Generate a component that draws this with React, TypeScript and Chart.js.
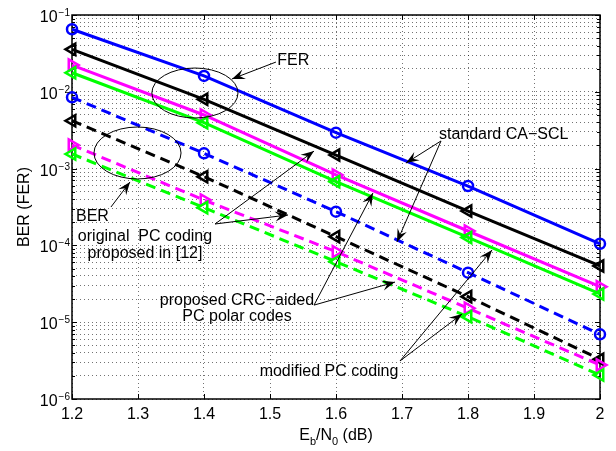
import React, { useEffect, useRef } from 'react';
import { Chart, registerables } from 'chart.js';

Chart.register(...registerables);

// ---------------- data ----------------
const ebn0 = [1.2, 1.4, 1.6, 1.8, 2.0];

// FER (solid)
const ferStandard = [0.0652, 0.0161, 0.00294, 5.93e-4, 1.05e-4]; // blue
const ferOriginal = [0.0357, 0.00798, 0.0015, 2.8e-4, 5.4e-5]; // black
const ferModified = [0.0223, 0.00499, 8.26e-4, 1.54e-4, 2.9e-5]; // magenta
const ferProposed = [0.0177, 0.00396, 6.76e-4, 1.27e-4, 2.33e-5]; // green

// BER (dashed)
const berStandard = [0.00848, 1.58e-3, 2.75e-4, 4.42e-5, 6.95e-6]; // blue
const berOriginal = [4.2e-3, 7.85e-4, 1.3e-4, 2.15e-5, 3.29e-6]; // black
const berModified = [2.03e-3, 3.9e-4, 8.28e-5, 1.52e-5, 2.77e-6]; // magenta
const berProposed = [1.55e-3, 3.1e-4, 6.14e-5, 1.18e-5, 2.05e-6]; // green

// ticks
const xTickValues = [1.2, 1.3, 1.4, 1.5, 1.6, 1.7, 1.8, 1.9, 2.0];
const xTickLabels = ['1.2', '1.3', '1.4', '1.5', '1.6', '1.7', '1.8', '1.9', '2'];
const yTickValues = [1e-6, 1e-5, 1e-4, 1e-3, 1e-2, 1e-1];
const yTickExponents = ['\u22126', '\u22125', '\u22124', '\u22123', '\u22122', '\u22121'];
const yMinorMultipliers = [2, 3, 4, 5, 6, 7, 8, 9];

const yTitle = 'BER (FER)';
const xTitleParts = [
  { t: 'E', sub: false },
  { t: 'b', sub: true },
  { t: '/N', sub: false },
  { t: '0', sub: true },
  { t: ' (dB)', sub: false },
];

// ---------------- annotations (data coordinates) ----------------
const annoTexts = [
  { text: 'FER', x: 1.511, y: 0.0252, align: 'left' },
  { text: 'BER', x: 1.206, y: 2.34e-4, align: 'left' },
  { text: 'original  PC coding', x: 1.3106, y: 1.32e-4, align: 'center' },
  { text: 'proposed in [12]', x: 1.3106, y: 7.72e-5, align: 'center' },
  { text: 'standard CA\u2212SCL', x: 1.756, y: 2.74e-3, align: 'left' },
  { text: 'proposed CRC\u2212aided', x: 1.45, y: 1.89e-5, align: 'center' },
  { text: 'PC polar codes', x: 1.45, y: 1.17e-5, align: 'center' },
  { text: 'modified PC coding', x: 1.5894, y: 2.25e-6, align: 'center' },
];

const annoArrows = [
  { x1: 1.509, y1: 0.0244, x2: 1.4424, y2: 0.0147 },
  { x1: 1.259, y1: 3.16e-4, x2: 1.2879, y2: 6.7e-4 },
  { x1: 1.4167, y1: 1.9e-4, x2: 1.5667, y2: 1.69e-3 },
  { x1: 1.4167, y1: 1.9e-4, x2: 1.5273, y2: 2.49e-4 },
  { x1: 1.7591, y1: 2.29e-3, x2: 1.706, y2: 1.18e-3 },
  { x1: 1.7591, y1: 2.29e-3, x2: 1.6924, y2: 1.11e-4 },
  { x1: 1.5667, y1: 1.67e-5, x2: 1.656, y2: 4.81e-4 },
  { x1: 1.5667, y1: 1.67e-5, x2: 1.6894, y2: 3.33e-5 },
  { x1: 1.697, y1: 3.13e-6, x2: 1.8364, y2: 8.71e-5 },
  { x1: 1.697, y1: 3.13e-6, x2: 1.791, y2: 1.28e-5 },
];

const annoEllipses = [
  { x1: 1.321, x2: 1.4515, y1: 0.0204, y2: 0.00456 },
  { x1: 1.2333, x2: 1.3652, y1: 0.00348, y2: 0.000733 },
];

const FONT = "'Liberation Sans', Arimo, Arial, 'DejaVu Sans', sans-serif";

function drawArrow(ctx: CanvasRenderingContext2D, x1: number, y1: number, x2: number, y2: number) {
  ctx.beginPath();
  ctx.moveTo(x1, y1);
  ctx.lineTo(x2, y2);
  ctx.stroke();
  const ang = Math.atan2(y2 - y1, x2 - x1);
  const L = 13;
  const W = 5;
  const c = Math.cos(ang);
  const s = Math.sin(ang);
  const bx = x2 - L * c;
  const by = y2 - L * s;
  const nx = x2 - 0.62 * L * c;
  const ny = y2 - 0.62 * L * s;
  const px = -s;
  const py = c;
  ctx.beginPath();
  ctx.moveTo(x2, y2);
  ctx.lineTo(bx + px * W, by + py * W);
  ctx.lineTo(nx, ny);
  ctx.lineTo(bx - px * W, by - py * W);
  ctx.closePath();
  ctx.fill();
}

const matlabPlugin = {
  id: 'matlabAxes',
  beforeDatasetsDraw(chart: any) {
    const { ctx, chartArea: a, scales } = chart;
    const xs = scales.x;
    const ys = scales.y;
    ctx.save();
    ctx.setLineDash([]);
    ctx.strokeStyle = '#000';
    ctx.lineWidth = 1;
    for (const v of xTickValues) {
      const px = Math.round(xs.getPixelForValue(v)) + 0.5;
      ctx.beginPath();
      ctx.moveTo(px, a.bottom);
      ctx.lineTo(px, a.bottom - 5);
      ctx.moveTo(px, a.top);
      ctx.lineTo(px, a.top + 5);
      ctx.stroke();
    }
    for (const v of yTickValues) {
      const py = Math.round(ys.getPixelForValue(v)) + 0.5;
      ctx.beginPath();
      ctx.moveTo(a.left, py);
      ctx.lineTo(a.left + 5, py);
      ctx.moveTo(a.right, py);
      ctx.lineTo(a.right - 5, py);
      ctx.stroke();
      if (v < 0.1) {
        for (const m of yMinorMultipliers) {
          const pm = Math.round(ys.getPixelForValue(v * m)) + 0.5;
          ctx.beginPath();
          ctx.moveTo(a.left, pm);
          ctx.lineTo(a.left + 3, pm);
          ctx.moveTo(a.right, pm);
          ctx.lineTo(a.right - 3, pm);
          ctx.stroke();
        }
      }
    }
    ctx.lineWidth = 1.5;
    ctx.strokeRect(a.left, a.top, a.right - a.left, a.bottom - a.top);
    ctx.restore();
  },
  afterDatasetsDraw(chart: any) {
    const { ctx, chartArea: a, scales } = chart;
    const xs = scales.x;
    const ys = scales.y;
    const X = (v: number) => xs.getPixelForValue(v);
    const Y = (v: number) => ys.getPixelForValue(v);
    ctx.save();
    ctx.setLineDash([]);
    ctx.fillStyle = '#000';
    ctx.strokeStyle = '#000';
    ctx.lineWidth = 1;

    for (const e of annoEllipses) {
      const x1 = X(e.x1), x2 = X(e.x2), y1 = Y(e.y1), y2 = Y(e.y2);
      ctx.beginPath();
      ctx.ellipse((x1 + x2) / 2, (y1 + y2) / 2, Math.abs(x2 - x1) / 2, Math.abs(y2 - y1) / 2, 0, 0, Math.PI * 2);
      ctx.stroke();
    }
    for (const ar of annoArrows) {
      drawArrow(ctx, X(ar.x1), Y(ar.y1), X(ar.x2), Y(ar.y2));
    }
    ctx.font = `16px ${FONT}`;
    ctx.textBaseline = 'middle';
    for (const t of annoTexts) {
      ctx.textAlign = t.align as CanvasTextAlign;
      ctx.fillText(t.text, X(t.x), Y(t.y));
    }

    ctx.textBaseline = 'alphabetic';
    ctx.textAlign = 'right';
    yTickValues.forEach((v, i) => {
      const py = Y(v);
      ctx.font = `10px ${FONT}`;
      const sup = yTickExponents[i];
      ctx.fillText(sup, a.left - 2, py + 1);
      const sw = ctx.measureText(sup).width;
      ctx.font = `16px ${FONT}`;
      ctx.fillText('10', a.left - 2 - sw - 1, py + 7);
    });

    ctx.textAlign = 'center';
    ctx.font = `16px ${FONT}`;
    xTickValues.forEach((v, i) => {
      ctx.fillText(xTickLabels[i], X(v), a.bottom + 20);
    });

    const mainFont = `16px ${FONT}`;
    const subFont = `11px ${FONT}`;
    let total = 0;
    for (const p of xTitleParts) {
      ctx.font = p.sub ? subFont : mainFont;
      total += ctx.measureText(p.t).width;
    }
    let cx = (a.left + a.right) / 2 - total / 2;
    ctx.textAlign = 'left';
    for (const p of xTitleParts) {
      ctx.font = p.sub ? subFont : mainFont;
      ctx.fillText(p.t, cx, p.sub ? a.bottom + 46 : a.bottom + 41);
      cx += ctx.measureText(p.t).width;
    }

    ctx.save();
    ctx.translate(25, (a.top + a.bottom) / 2);
    ctx.rotate(-Math.PI / 2);
    ctx.font = mainFont;
    ctx.textAlign = 'center';
    ctx.textBaseline = 'middle';
    ctx.fillText(yTitle, 0, 0);
    ctx.restore();

    ctx.restore();
  },
};

function series(values: number[], color: string, dashed: boolean, style: string, rotation: number, order: number) {
  return {
    data: ebn0.map((x, i) => ({ x, y: values[i] })),
    borderColor: color,
    backgroundColor: 'rgba(0,0,0,0)',
    borderWidth: 3,
    borderDash: dashed ? [10, 6] : [],
    pointStyle: style,
    pointRotation: rotation,
    pointRadius: style === 'circle' ? 5 : 6.5,
    pointBorderWidth: 2.5,
    pointBorderColor: color,
    pointBackgroundColor: 'rgba(0,0,0,0)',
    fill: false,
    tension: 0,
    clip: false,
    order,
  };
}

export default function App() {
  const ref = useRef<HTMLCanvasElement | null>(null);
  useEffect(() => {
    document.body.style.margin = '0';
    if (!ref.current) return;
    const gridColor = 'rgba(0,0,0,0.55)';
    const yAll: number[] = [];
    yTickValues.forEach((v) => {
      yAll.push(v);
      if (v < 0.1) yMinorMultipliers.forEach((m) => yAll.push(v * m));
    });
    const chart = new Chart(ref.current, {
      type: 'line',
      data: {
        datasets: [
          series(ferStandard, '#0000ff', false, 'circle', 0, 8),
          series(ferOriginal, '#000000', false, 'triangle', -90, 7),
          series(ferModified, '#ff00ff', false, 'triangle', 90, 6),
          series(ferProposed, '#00ff00', false, 'triangle', -90, 5),
          series(berStandard, '#0000ff', true, 'circle', 0, 4),
          series(berOriginal, '#000000', true, 'triangle', -90, 3),
          series(berModified, '#ff00ff', true, 'triangle', 90, 2),
          series(berProposed, '#00ff00', true, 'triangle', -90, 1),
        ] as any,
      },
      options: {
        responsive: false,
        animation: false,
        devicePixelRatio: 1,
        layout: { padding: { top: 15, right: 16, left: 0, bottom: 0 } },
        plugins: { legend: { display: false }, tooltip: { enabled: false } },
        scales: {
          x: {
            type: 'linear',
            min: 1.2,
            max: 2,
            afterBuildTicks: (s: any) => {
              s.ticks = xTickValues.map((v) => ({ value: v }));
            },
            afterFit: (s: any) => {
              s.height = 52;
            },
            ticks: { display: false },
            grid: { color: gridColor, lineWidth: 1, drawTicks: false },
            border: { display: false, dash: [1, 3] },
          },
          y: {
            type: 'logarithmic',
            min: 1e-6,
            max: 1e-1,
            afterBuildTicks: (s: any) => {
              s.ticks = yAll.map((v) => ({ value: v }));
            },
            afterFit: (s: any) => {
              s.width = 72;
            },
            ticks: { display: false, autoSkip: false },
            grid: { color: gridColor, lineWidth: 1, drawTicks: false },
            border: { display: false, dash: [1, 3] },
          },
        },
      } as any,
      plugins: [matlabPlugin],
    });
    return () => chart.destroy();
  }, []);
  return (
    <div style={{ width: 616, height: 451, background: '#fff' }}>
      <canvas ref={ref} width={616} height={451} style={{ display: 'block' }} />
    </div>
  );
}
